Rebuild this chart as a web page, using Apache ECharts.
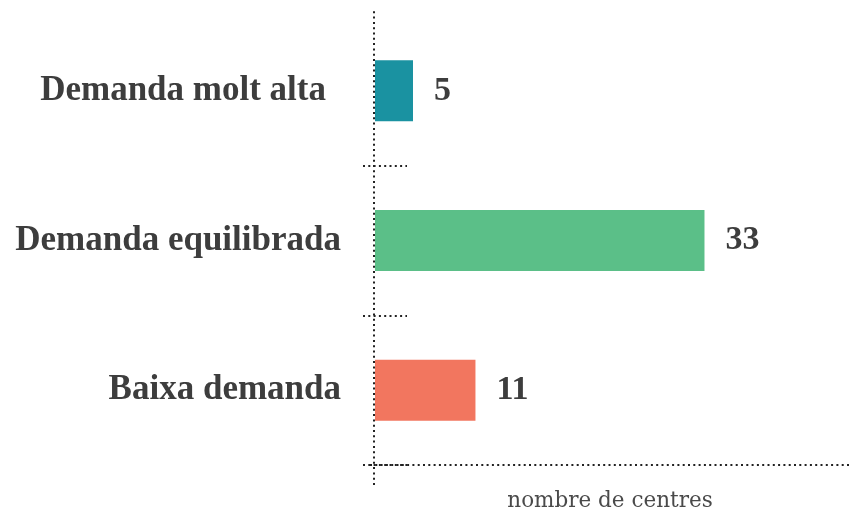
<!DOCTYPE html>
<html>
<head>
<meta charset="utf-8">
<script src="https://cdn.jsdelivr.net/npm/echarts@6/dist/echarts.min.js"></script>
<style>
  html, body { margin: 0; padding: 0; background: #fff; }
  #chart { width: 852px; height: 509px; }
</style>
</head>
<body>
<div id="chart"></div>
<script>
const categories = ["Demanda molt alta", "Demanda equilibrada", "Baixa demanda"];
const values = [5, 33, 11];
const colors = ["#1a92a1", "#5bbf88", "#f2765f"];
const axisName = "nombre de centres";

const dotted = { color: "#222", width: 2, type: [2, 3.3], cap: "butt" };
const labelFont = "Liberation Serif";

const chart = echarts.init(document.getElementById("chart"), null, { renderer: "canvas" });

chart.setOption({
  animation: false,
  grid: [
    // main plot area
    { left: 375, right: 0, top: 16, bottom: 44, outerBoundsMode: "none" },
    // only used to draw the long dotted axis lines
    { left: 370, right: 0, top: 10, bottom: 24, outerBoundsMode: "none" }
  ],
  xAxis: [{
    gridIndex: 0,
    type: "value",
    min: 1.35,
    max: 47.17,
    axisLine: { show: false },
    axisTick: { show: false },
    axisLabel: { show: false },
    splitLine: { show: false },
    name: axisName,
    nameLocation: "middle",
    nameGap: 25,
    nameTextStyle: { fontFamily: "DejaVu Serif", fontSize: 21.5, color: "#4a4a4a", padding: [0, 7, 0, 0] }
  }, {
    gridIndex: 1,
    type: "value",
    position: "bottom",
    offset: -20,
    axisLine: { show: true, lineStyle: dotted },
    axisTick: { show: false },
    axisLabel: { show: false },
    splitLine: { show: false }
  }],
  yAxis: [{
    gridIndex: 0,
    type: "category",
    data: categories,
    inverse: true,
    offset: 12,
    axisLine: { show: false },
    axisTick: {
      show: true,
      inside: true,
      length: 44,
      interval: function (i) { return i > 0; },
      lineStyle: dotted
    },
    axisLabel: {
      margin: 22,
      fontFamily: labelFont,
      fontWeight: "bold",
      fontSize: 35,
      color: "#3d3d3d",
      // the first label sits a little further left in the original
      formatter: function (v, i) { return i === 0 ? "{a|" + v + "}" : v; },
      rich: {
        a: {
          fontFamily: labelFont,
          fontWeight: "bold",
          fontSize: 35,
          color: "#3d3d3d",
          padding: [0, 15, 0, 0]
        }
      }
    }
  }, {
    gridIndex: 1,
    type: "value",
    position: "left",
    offset: -4,
    axisLine: { show: true, lineStyle: dotted },
    axisTick: { show: false },
    axisLabel: { show: false },
    splitLine: { show: false }
  }],
  series: [{
    type: "bar",
    xAxisIndex: 0,
    yAxisIndex: 0,
    barWidth: 61,
    clip: true,
    data: values.map((v, i) => ({ value: v, itemStyle: { color: colors[i] } })),
    label: {
      show: true,
      position: "right",
      distance: 21,
      fontFamily: labelFont,
      fontWeight: "bold",
      fontSize: 34,
      color: "#3d3d3d"
    }
  }]
});
</script>
</body>
</html>
